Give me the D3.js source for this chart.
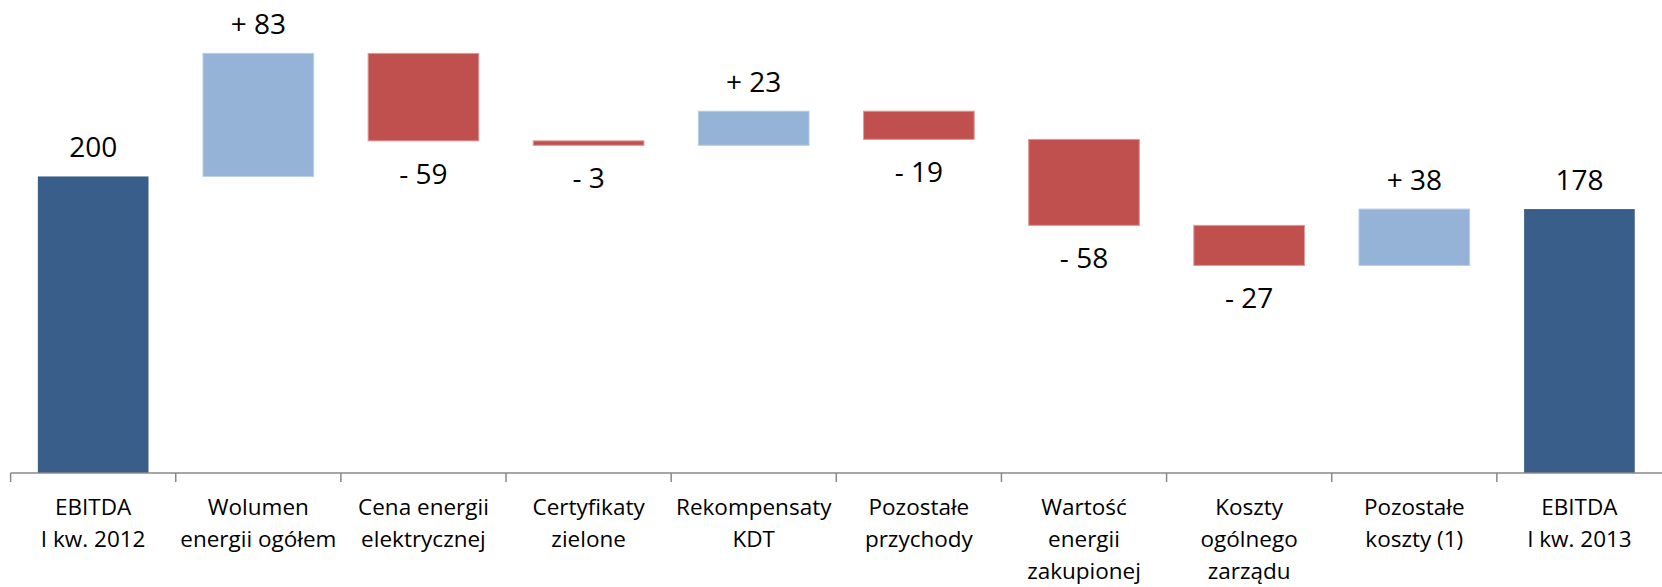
<!DOCTYPE html>
<html>
<head>
<meta charset="utf-8">
<script src="https://cdn.jsdelivr.net/npm/d3@7"></script>
<style>
  body { margin: 0; background: #fff; }
  svg { display: block; font-family: "Open Sans", sans-serif; }
</style>
</head>
<body>
<svg width="1662" height="587"></svg>
<script>
// categories (lines of each axis label)
var categories = [
    ["EBITDA", "I kw. 2012"],
    ["Wolumen", "energii ogółem"],
    ["Cena energii", "elektrycznej"],
    ["Certyfikaty", "zielone"],
    ["Rekompensaty", "KDT"],
    ["Pozostałe", "przychody"],
    ["Wartość", "energii", "zakupionej"],
    ["Koszty", "ogólnego", "zarządu"],
    ["Pozostałe", "koszty (1)"],
    ["EBITDA", "I kw. 2013"]
];
// change of each step; first and last are totals
var changes = [200, 83, -59, -3, 23, -19, -58, -27, 38, 178];
var kinds = ["total", "delta", "delta", "delta", "delta", "delta", "delta", "delta", "delta", "total"];

var axisY = 473;
var left = 10.6, right = 1662;

var x = d3.scaleBand()
    .domain(d3.range(categories.length))
    .range([left, right])
    .paddingInner(0.33)
    .paddingOuter(0.165);

var y = d3.scaleLinear().domain([0, 319]).range([axisY, 0]);

// build running totals
var running = 0;
var bars = changes.map(function(v, i) {
    var d = { i: i, value: v, kind: kinds[i] };
    if (kinds[i] == "total") {
        d.lo = 0; d.hi = v; running = v;
    } else {
        d.lo = Math.min(running, running + v);
        d.hi = Math.max(running, running + v);
        running += v;
    }
    return d;
});

function fillOf(d) {
    if (d.kind == "total") return "#3a5e8a";
    return d.value > 0 ? "#95b3d7" : "#c0504d";
}
function strokeOf(d) {
    if (d.kind == "total") return "none";
    return d.value > 0 ? "#b9cde5" : "#dc9a98";
}

var svg = d3.select("svg");

svg.append("g")
    .selectAll("rect")
    .data(bars)
    .enter()
        .append("rect")
        .attr("x", function(d) { return x(d.i); })
        .attr("width", x.bandwidth())
        .attr("y", function(d) { return y(d.hi); })
        .attr("height", function(d) { return y(d.lo) - y(d.hi); })
        .attr("fill", fillOf)
        .attr("stroke", strokeOf)
        .attr("stroke-width", 1);

// value labels
svg.append("g")
    .selectAll("text")
    .data(bars)
    .enter()
        .append("text")
        .attr("x", function(d) { return x(d.i) + x.bandwidth() / 2; })
        .attr("y", function(d) {
            if (d.kind == "delta" && d.value < 0) return y(d.lo) + 43;
            return y(d.hi) - 19;
        })
        .attr("text-anchor", "middle")
        .attr("font-size", 28)
        .attr("fill", "#000")
        .text(function(d) {
            if (d.kind == "total") return d.value;
            return (d.value > 0 ? "+ " : "- ") + Math.abs(d.value);
        });

// category axis
var axis = svg.append("g");
axis.append("line")
    .attr("x1", left).attr("x2", right)
    .attr("y1", axisY).attr("y2", axisY)
    .attr("stroke", "#888").attr("stroke-width", 1.5);

var step = x.step();
axis.selectAll("line.tick")
    .data(d3.range(categories.length))
    .enter()
        .append("line")
        .attr("class", "tick")
        .attr("x1", function(d) { return x(d) - x.paddingOuter() * step; })
        .attr("x2", function(d) { return x(d) - x.paddingOuter() * step; })
        .attr("y1", axisY).attr("y2", axisY + 9)
        .attr("stroke", "#888").attr("stroke-width", 1.5);

axis.selectAll("text")
    .data(categories)
    .enter()
        .append("text")
        .attr("text-anchor", "middle")
        .attr("font-size", 22.5)
        .attr("fill", "#000")
        .attr("transform", function(d, i) {
            return "translate(" + (x(i) + x.bandwidth() / 2) + ", 515)";
        })
        .selectAll("tspan")
        .data(function(d) { return d; })
        .enter()
            .append("tspan")
            .attr("x", 0)
            .attr("y", function(d, j) { return j * 32; })
            .text(function(d) { return d; });
</script>
</body>
</html>
